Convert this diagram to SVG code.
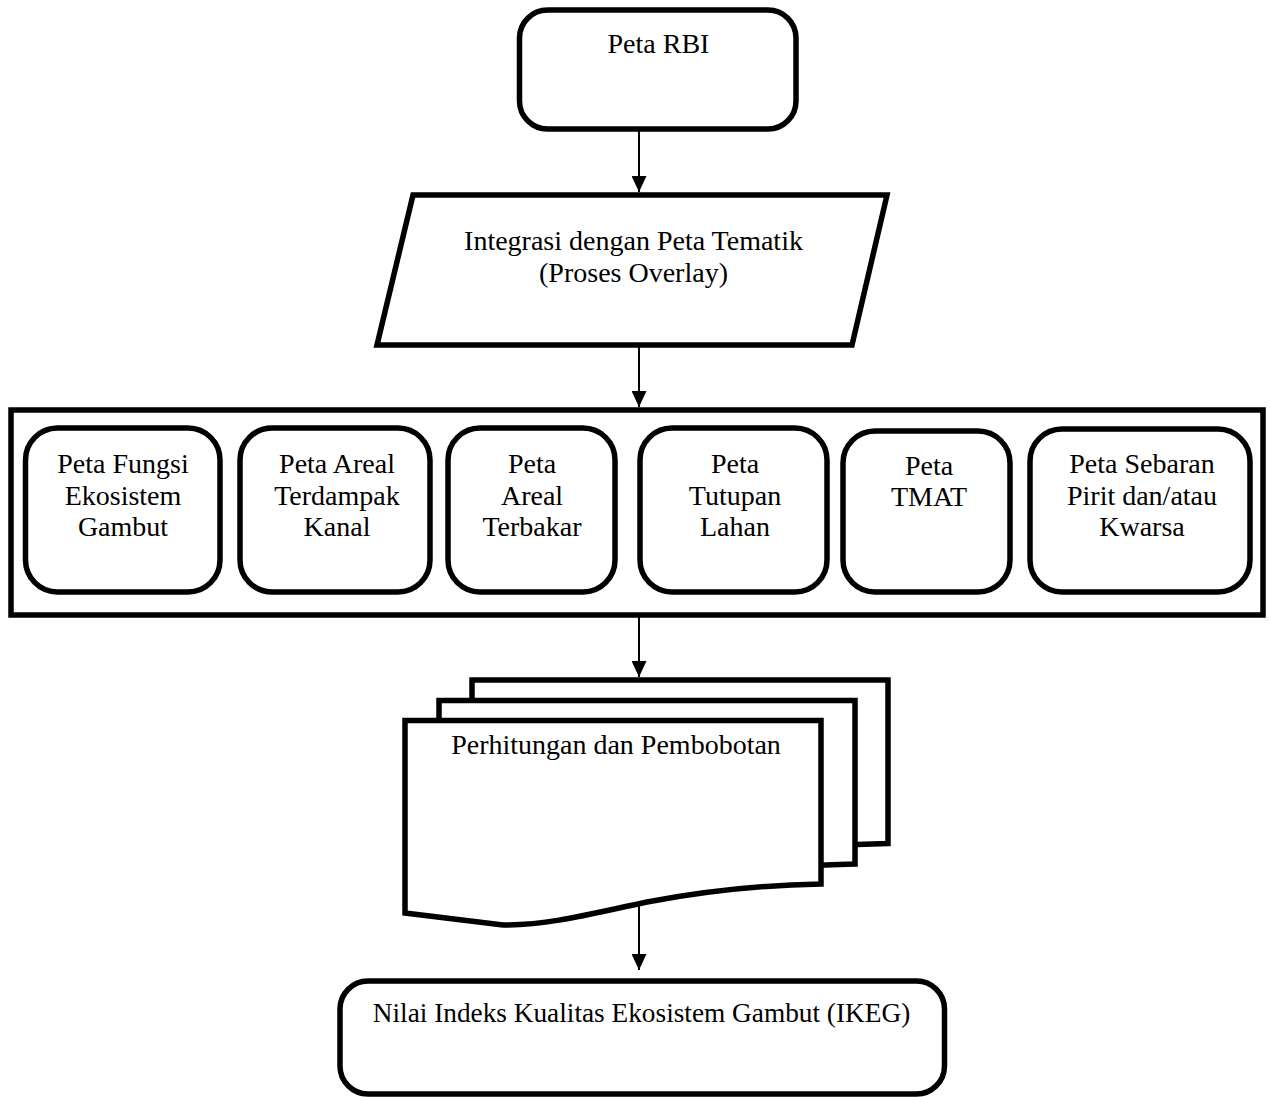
<svg xmlns="http://www.w3.org/2000/svg" width="1270" height="1097" viewBox="0 0 1270 1097">
<defs>
<style>
.shape{fill:#fff;stroke:#000;stroke-width:5.5;stroke-linejoin:round}
.frame{fill:#fff;stroke:#000;stroke-width:5.5}
.t{font-family:"Liberation Serif","Times New Roman",serif;font-size:28px;fill:#000;text-anchor:middle}
.conn{stroke:#000;stroke-width:2;fill:none}
</style>
<marker id="arr" markerUnits="userSpaceOnUse" markerWidth="16" markerHeight="15" refX="16" refY="7.5" orient="auto">
<path d="M0,0 L16,7.5 L0,15 Z" fill="#000"/>
</marker>
</defs>
<rect width="1270" height="1097" fill="#fff"/>

<g id="node-rbi">
<rect class="shape" x="519.5" y="10" width="276.5" height="119" rx="28"/>
<text class="t" x="658.5" y="53">Peta RBI</text>
</g>

<g id="node-integrasi">
<polygon class="frame" points="413,195 887,195 852,345 377,345"/>
<text class="t" x="633.5" y="250">Integrasi dengan Peta Tematik</text>
<text class="t" x="633.5" y="282">(Proses Overlay)</text>
</g>

<g id="node-container">
<rect class="frame" x="11" y="410" width="1252" height="205"/>
</g>

<g id="node-fungsi">
<rect class="shape" x="25.5" y="428" width="194.5" height="164" rx="32"/>
<text class="t" x="123" y="473">Peta Fungsi</text>
<text class="t" x="123" y="504.5">Ekosistem</text>
<text class="t" x="123" y="536">Gambut</text>
</g>

<g id="node-kanal">
<rect class="shape" x="240" y="428" width="190" height="164" rx="32"/>
<text class="t" x="337" y="473">Peta Areal</text>
<text class="t" x="337" y="504.5">Terdampak</text>
<text class="t" x="337" y="536">Kanal</text>
</g>

<g id="node-terbakar">
<rect class="shape" x="448" y="428" width="167" height="164" rx="32"/>
<text class="t" x="532" y="473">Peta</text>
<text class="t" x="532" y="504.5">Areal</text>
<text class="t" x="532" y="536">Terbakar</text>
</g>

<g id="node-tutupan">
<rect class="shape" x="640" y="428" width="187" height="164" rx="32"/>
<text class="t" x="735" y="473">Peta</text>
<text class="t" x="735" y="504.5">Tutupan</text>
<text class="t" x="735" y="536">Lahan</text>
</g>

<g id="node-tmat">
<rect class="shape" x="843" y="431" width="167" height="161" rx="32"/>
<text class="t" x="929" y="475">Peta</text>
<text class="t" x="929" y="506">TMAT</text>
</g>

<g id="node-pirit">
<rect class="shape" x="1030" y="429" width="220" height="163" rx="32"/>
<text class="t" x="1142" y="473">Peta Sebaran</text>
<text class="t" x="1142" y="504.5">Pirit dan/atau</text>
<text class="t" x="1142" y="536">Kwarsa</text>
</g>

<g id="node-perhitungan">
<path class="frame" transform="translate(67,-40.5)" d="M405,720.5 H821 V884 C760,885 700,892 647,902 C590,914 550,925 503,925 L405,913 Z"/>
<path class="frame" transform="translate(34,-20)" d="M405,720.5 H821 V884 C760,885 700,892 647,902 C590,914 550,925 503,925 L405,913 Z"/>
<path class="frame" d="M405,720.5 H821 V884 C760,885 700,892 647,902 C590,914 550,925 503,925 L405,913 Z"/>
<text class="t" x="616" y="754">Perhitungan dan Pembobotan</text>
</g>

<g id="node-ikeg">
<rect class="shape" x="340" y="981" width="604.5" height="113" rx="28"/>
<text class="t" x="641.5" y="1022" style="font-size:27.3px">Nilai Indeks Kualitas Ekosistem Gambut (IKEG)</text>
</g>

<g id="connectors">
<line class="conn" x1="639" y1="131" x2="639" y2="192" marker-end="url(#arr)"/>
<line class="conn" x1="639" y1="347" x2="639" y2="407" marker-end="url(#arr)"/>
<line class="conn" x1="639" y1="617" x2="639" y2="677" marker-end="url(#arr)"/>
<line class="conn" x1="639" y1="905" x2="639" y2="970" marker-end="url(#arr)"/>
</g>
</svg>
